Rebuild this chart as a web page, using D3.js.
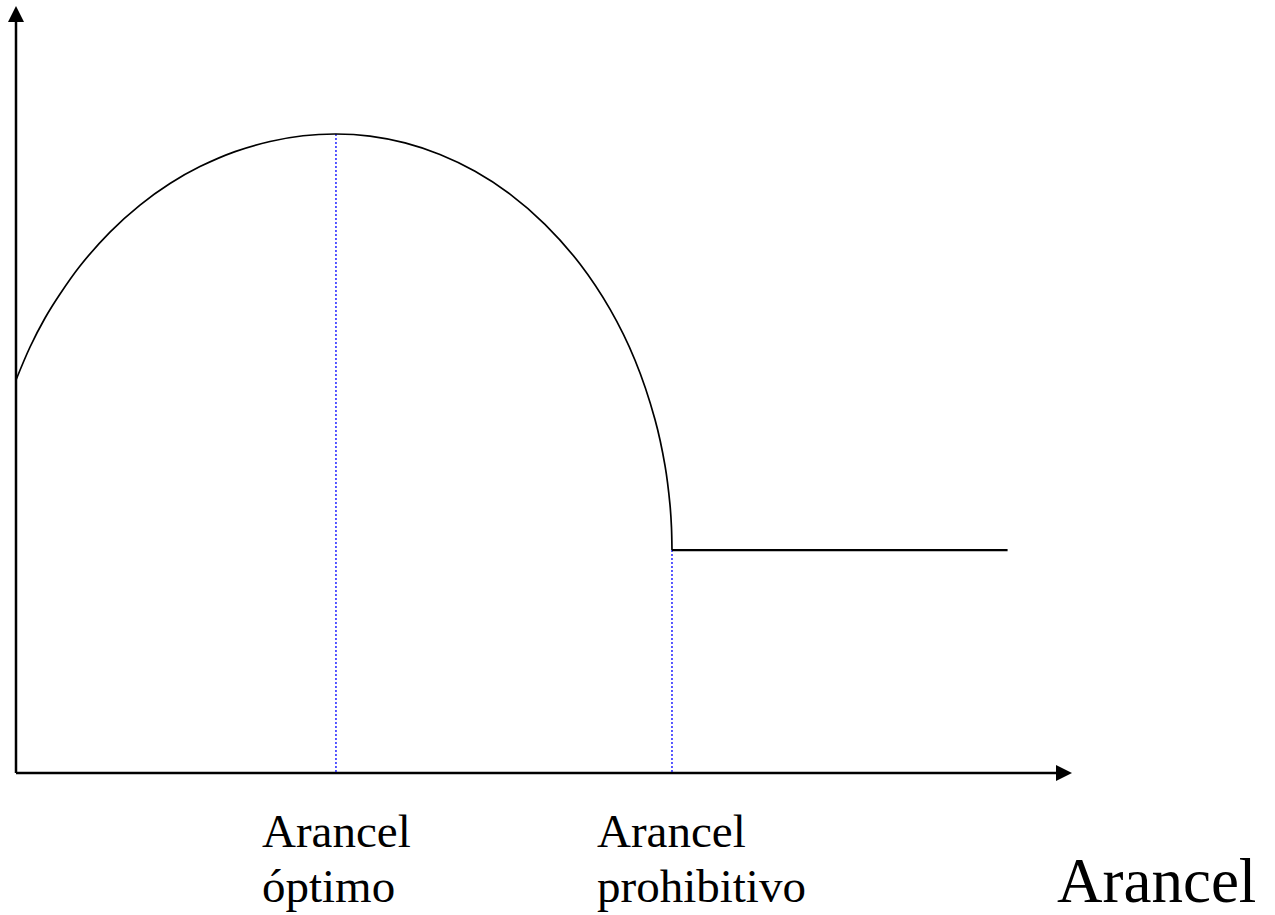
<!DOCTYPE html>
<html>
  <head>
    <meta charset="utf-8">
    <title>Arancel óptimo y prohibitivo</title>
    <script src="https://d3js.org/d3.v7.min.js"></script>
    <style>
      body{ margin:0; background:#fff; }
      text{ font-family: 'Liberation Serif', 'Times New Roman', serif; fill:#000; }
    </style>
  </head>
  <body>
    <svg></svg>
    <script>

      //begin: data (arancel 0..100, bienestar 0..100)
      var curveArancel  = [0, 1.33, 2.75, 4.17, 6.06, 8.90, 11.74, 14.58, 17.42, 20.74, 24.05, 27.18, 30.30,
                           33.52, 36.84, 40.15, 43.47, 46.78, 50.09, 53.41, 56.25, 58.62, 60.51, 61.46, 61.93, 62.07, 62.12];
      var curveBienestar = [51.24, 55.54, 59.32, 62.45, 66.10, 70.53, 74.05, 76.86, 79.06, 81.02, 82.33, 83.08, 83.31,
                           83.04, 82.15, 80.64, 78.45, 75.48, 71.54, 66.36, 60.47, 53.82, 46.10, 40.08, 34.99, 32.07, 29.07];
      var flatArancel = [62.12, 93.9];
      var flatBienestar = [29.07, 29.07];
      var markArancel = [30.3, 62.12];
      var markBienestar = [83.31, 29.07];
      var markLabels = [["Arancel", "óptimo"], ["Arancel", "prohibitivo"]];
      var axisLabel = "Arancel";
      //end: data

      //begin: layout conf.
      var svgWidth = 1275,
          svgHeight = 915,
          x0 = 16, x1 = 1072,
          y0 = 773, y1 = 6;
      //end: layout conf.

      var x = d3.scaleLinear().domain([0, 100]).range([x0, x1]);
      var y = d3.scaleLinear().domain([0, 100]).range([y0, y1]);

      var svg = d3.select("svg")
        .attr("width", svgWidth)
        .attr("height", svgHeight);

      // axes
      svg.append("line")
        .attr("x1", x(0)).attr("y1", y(0))
        .attr("x2", x(0)).attr("y2", y(100) + 14)
        .attr("stroke", "#000").attr("stroke-width", 2.5);
      svg.append("path")
        .attr("d", "M" + [x(0), y(100)] + "L" + [x(0) - 8, y(100) + 16] + "L" + [x(0) + 8, y(100) + 16] + "Z")
        .attr("fill", "#000");

      svg.append("line")
        .attr("x1", x(0)).attr("y1", y(0))
        .attr("x2", x(100) - 14).attr("y2", y(0))
        .attr("stroke", "#000").attr("stroke-width", 2.5);
      svg.append("path")
        .attr("d", "M" + [x(100), y(0)] + "L" + [x(100) - 16, y(0) - 8] + "L" + [x(100) - 16, y(0) + 8] + "Z")
        .attr("fill", "#000");

      // blue dotted guides
      svg.selectAll(".guide")
        .data(markArancel)
        .enter()
          .append("line")
            .classed("guide", true)
            .attr("x1", function(d){ return x(d); })
            .attr("x2", function(d){ return x(d); })
            .attr("y1", function(d, i){ return y(markBienestar[i]); })
            .attr("y2", y(0))
            .attr("stroke", "#0000ff")
            .attr("stroke-width", 1.3)
            .attr("stroke-dasharray", "2,2");

      // curve
      var curvePts = curveArancel.map(function(d, i){ return [d, curveBienestar[i]]; });
      var line = d3.line()
        .x(function(d){ return x(d[0]); })
        .y(function(d){ return y(d[1]); })
        .curve(d3.curveCatmullRom.alpha(0.5));

      svg.append("path")
        .attr("d", line(curvePts))
        .attr("fill", "none")
        .attr("stroke", "#000")
        .attr("stroke-width", 1.7);

      var flatPts = flatArancel.map(function(d, i){ return [d, flatBienestar[i]]; });
      svg.append("path")
        .attr("d", d3.line().x(function(d){ return x(d[0]); }).y(function(d){ return y(d[1]); })(flatPts))
        .attr("fill", "none")
        .attr("stroke", "#000")
        .attr("stroke-width", 2.2);

      // labels under the axis
      var labelX = [262, 597];
      markLabels.forEach(function(lines, i){
        var t = svg.append("text")
          .attr("x", labelX[i])
          .attr("y", 847)
          .style("font-size", "47px");
        lines.forEach(function(s, j){
          t.append("tspan")
            .attr("x", labelX[i])
            .attr("dy", j === 0 ? 0 : 55)
            .text(s);
        });
      });

      svg.append("text")
        .attr("x", 1057)
        .attr("y", 902)
        .style("font-size", "63px")
        .text(axisLabel);

    </script>
  </body>
</html>
